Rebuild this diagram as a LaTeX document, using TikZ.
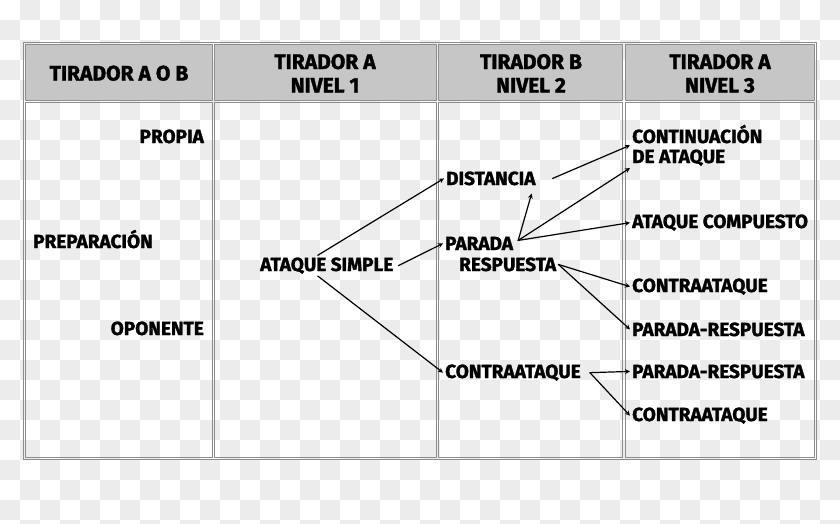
\documentclass[tikz,border=0pt]{standalone}
\usepackage{fontspec}
\setmainfont{Fira Sans}[BoldFeatures={FakeBold=1.6}]
\begin{document}
\begin{tikzpicture}[x=1pt, y=-1pt, line join=round, line cap=round, >=stealth, font=\bfseries\fontsize{19}{24}\selectfont]
	\tikzset{every node/.style={inner sep=2pt, text=black},
		titulo/.style={anchor=base, align=center, font=\bfseries\fontsize{21}{23.5}\selectfont},
		celda/.style={draw=gray!90, line width=1pt},
		cabecera/.style={celda, fill=gray!45},
		flecha/.style={->, line width=1.2pt}}
	\def\ancho{840}\def\alto{523}
	\fill[white] (0,0) rectangle (\ancho,\alto);
	\useasboundingbox (0,0) rectangle (\ancho,\alto);
	\begin{scope}
		\clip (0,0) rectangle (\ancho,\alto);
		\foreach \i in {0,...,41} \foreach \j in {0,...,26} {
			\pgfmathtruncatemacro\impar{mod(\i+\j,2)}
			\ifnum\impar=1 \fill[gray!15] (20*\i,20*\j) rectangle ++(20,20); \fi}
	\end{scope}
	\draw[celda] (23,42) rectangle (816,459);
	\foreach \a/\b in {25/212, 214/436, 438/622, 625/814} {
		\draw[cabecera] (\a,44) rectangle (\b,100);
		\draw[celda] (\a,102) rectangle (\b,457);}
	\node[titulo] (ab) at (119,80.5) {TIRADOR A O B};
	\node[titulo] (n1) at (325,92.5) {TIRADOR A\\NIVEL 1};
	\node[titulo] (n2) at (531,92.5) {TIRADOR B\\NIVEL 2};
	\node[titulo] (n3) at (720,92.5) {TIRADOR A\\NIVEL 3};
	\node[anchor=base east] (propia) at (206,143) {PROPIA};
	\node[anchor=base west] (prep) at (31,248) {PREPARACIÓN};
	\node[anchor=base east] (oponente) at (206,335) {OPONENTE};
	\node[anchor=base west] (atq) at (258,271) {ATAQUE SIMPLE};
	\node[anchor=base west] (dist) at (444,185) {DISTANCIA};
	\node[anchor=base west] (parada) at (443,250) {PARADA};
	\node[anchor=base west] (resp) at (457,271) {RESPUESTA};
	\node[anchor=base west] (ca2) at (443,378) {CONTRAATAQUE};
	\node[anchor=base west, align=left] (cont) at (630,163) {CONTINUACIÓN\\[-4pt]DE ATAQUE};
	\node[anchor=base west] (comp) at (630,228) {ATAQUE COMPUESTO};
	\node[anchor=base west] (ca1) at (630,292) {CONTRAATAQUE};
	\node[anchor=base west] (pr1) at (630,336) {PARADA-RESPUESTA};
	\node[anchor=base west] (pr2) at (630,378) {PARADA-RESPUESTA};
	\node[anchor=base west] (ca3) at (630,421) {CONTRAATAQUE};
	\coordinate (pe) at ([xshift=3pt, yshift=3pt]parada.east);
	\coordinate (ce) at ([xshift=7pt]ca2.east);
	\draw[flecha] ([xshift=-9pt]atq.north) -- (dist.west);
	\draw[flecha] ([xshift=3pt]atq.east) -- (parada.west);
	\draw[flecha] ([xshift=-9pt]atq.south) -- (ca2.west);
	\draw[flecha] ([xshift=15pt]dist.east) -- (cont.west);
	\draw[flecha] (pe) -- ([xshift=-6pt, yshift=-6pt]dist.south east);
	\draw[flecha] (pe) -- (cont.south west);
	\draw[flecha] (pe) -- (comp.west);
	\draw[flecha] (resp.east) -- (ca1.west);
	\draw[flecha] (resp.east) -- (pr1.west);
	\draw[flecha] (ce) -- (pr2.west);
	\draw[flecha] (ce) -- (ca3.west);
\end{tikzpicture}
\end{document}
